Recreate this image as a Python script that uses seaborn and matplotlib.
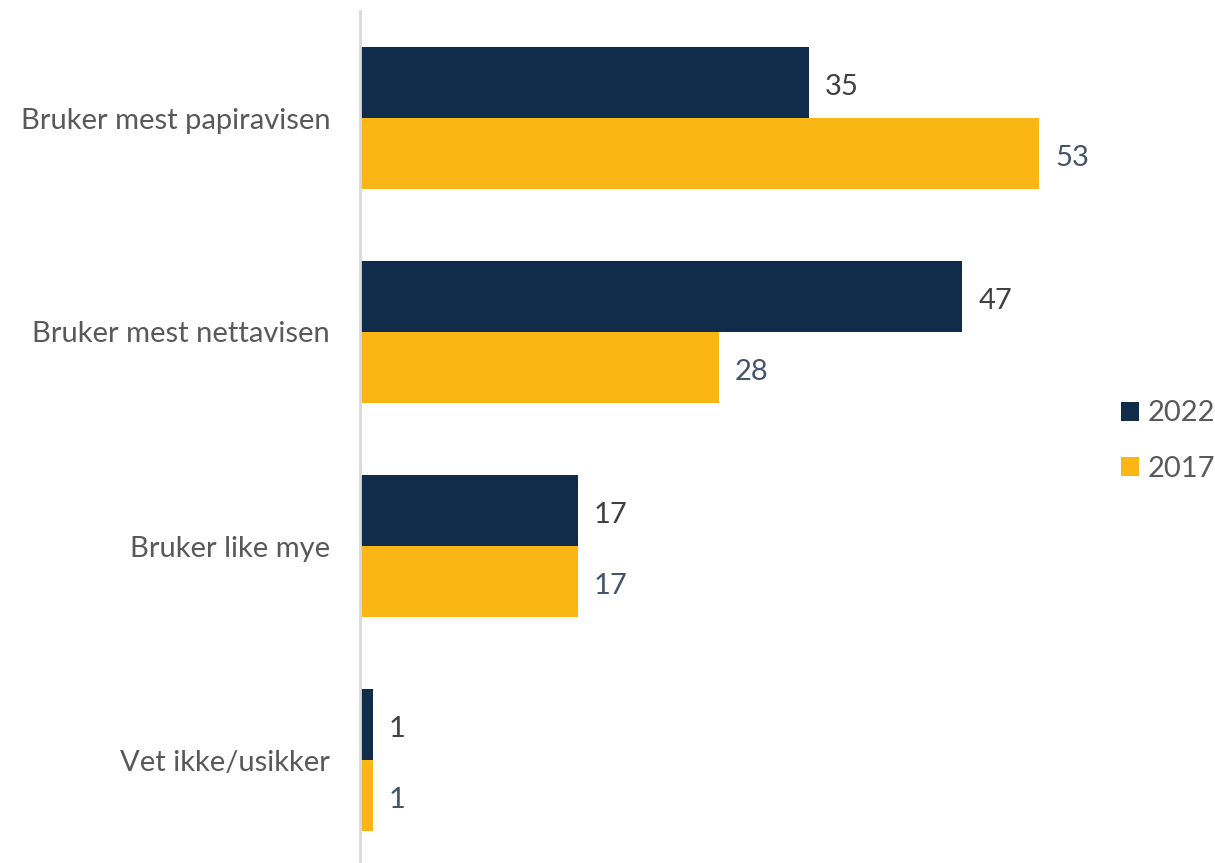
import matplotlib
matplotlib.use("Agg")
import matplotlib.pyplot as plt
from matplotlib.patches import Patch
import seaborn as sns
import pandas as pd

categories = ["Bruker mest papiravisen", "Bruker mest nettavisen",
              "Bruker like mye", "Vet ikke/usikker"]
years = ["2022", "2017"]
values_2022 = [35, 47, 17, 1]
values_2017 = [53, 28, 17, 1]

colors = {"2022": "#0F2D4B", "2017": "#F9B614"}
label_colors = {"2022": "#404040", "2017": "#44546A"}

df = pd.DataFrame({
    "kategori": categories * 2,
    "år": ["2022"] * 4 + ["2017"] * 4,
    "andel": values_2022 + values_2017,
})

sns.set_theme(style="white")
plt.rcParams["font.family"] = ["Lato", "DejaVu Sans"]

fig = plt.figure(figsize=(12.15, 8.63), dpi=100)
ax = fig.add_axes([360 / 1215, -4 / 863, 705 / 1215, 856 / 863])

sns.barplot(data=df, y="kategori", x="andel", hue="år", order=categories,
            hue_order=years, palette=colors, width=0.664, orient="h",
            saturation=1, ax=ax, legend=False, edgecolor="none")

for container, yr in zip(ax.containers, years):
    texts = ax.bar_label(container, labels=[f"{v:.0f}" for v in container.datavalues],
                         padding=11.5, fontsize=21, color=label_colors[yr])
    for t in texts:
        t.xyann = (11.5, -3)

ax.set_xlim(0, 55)
ax.set_ylim(3.5, -0.5)
ax.set_xlabel("")
ax.set_ylabel("")
ax.set_xticks([])
ax.tick_params(axis="y", length=0, pad=21.5, labelsize=21, labelcolor="#595959")
for side in ["top", "right", "bottom"]:
    ax.spines[side].set_visible(False)
ax.spines["left"].set_color("#D9D9D9")
ax.spines["left"].set_linewidth(2)

handles = [Patch(facecolor=colors[y], edgecolor="none", label=y) for y in years]
fig.legend(handles=handles, loc="center left", bbox_to_anchor=(1121 / 1215, 422 / 863),
           frameon=False, fontsize=21, labelcolor="#595959", handlelength=0.62,
           handleheight=0.62, handletextpad=0.3, labelspacing=1.0,
           borderpad=0, borderaxespad=0)

fig.savefig("out.png", dpi=100)
